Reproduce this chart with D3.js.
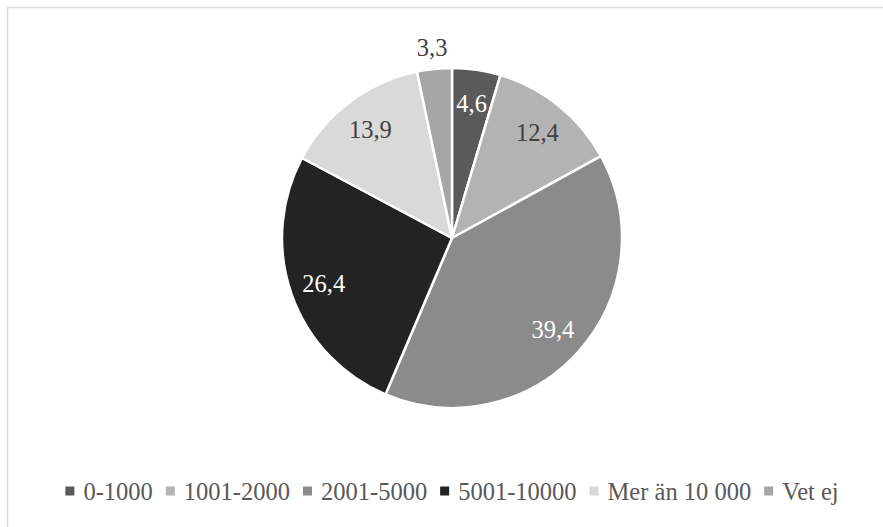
<!DOCTYPE html>
<html>
<head>
<meta charset="utf-8">
<script src="https://cdn.jsdelivr.net/npm/d3@7"></script>
<style>
    body { margin: 0; background: #fff; }
    text { font-family: 'Palatino Linotype', 'Book Antiqua', 'Liberation Serif', serif; }
</style>
</head>
<body>
<svg width="883" height="527"></svg>
<script>
const categories = ['0-1000', '1001-2000', '2001-5000', '5001-10000', 'Mer än 10 000', 'Vet ej'];
const values = [4.6, 12.4, 39.4, 26.4, 13.9, 3.3];
const labels = ['4,6', '12,4', '39,4', '26,4', '13,9', '3,3'];
const colors = ['#5a5a5a', '#b3b3b3', '#8b8b8b', '#232323', '#d9d9d9', '#a6a6a6'];
const labelColors = ['#ffffff', '#404040', '#ffffff', '#ffffff', '#404040', '#404040'];

const svg = d3.select('svg');

// chart frame
svg.append('rect')
    .attr('x', 7.5)
    .attr('y', 7.5)
    .attr('width', 900)
    .attr('height', 540)
    .attr('fill', 'none')
    .attr('stroke', '#d9d9d9')
    .attr('stroke-width', 1.5);

const cx = 452, cy = 238, radius = 170;

const pie = d3.pie().sort(null).value(d => d);
const arcs = pie(values);

const arc = d3.arc().innerRadius(0).outerRadius(radius);
const labelArc = d3.arc().innerRadius(136).outerRadius(136);
const outerArc = d3.arc().innerRadius(192).outerRadius(192);

const g = svg.append('g').attr('transform', `translate(${cx},${cy})`);

g.selectAll('path')
    .data(arcs)
    .enter()
    .append('path')
    .attr('d', arc)
    .attr('fill', (d, i) => colors[i])
    .attr('stroke', '#fff')
    .attr('stroke-width', 2.5)
    .attr('stroke-linejoin', 'round');

// data labels, small last slice sits outside
g.selectAll('text.lbl')
    .data(arcs)
    .enter()
    .append('text')
    .attr('class', 'lbl')
    .attr('transform', (d, i) => {
        const c = (i === arcs.length - 1 ? outerArc : labelArc).centroid(d);
        return `translate(${c[0]},${c[1]})`;
    })
    .attr('text-anchor', 'middle')
    .attr('dy', '0.35em')
    .style('font-size', '24.5px')
    .style('fill', (d, i) => labelColors[i])
    .text((d, i) => labels[i]);

// legend
const legend = svg.append('g').attr('transform', 'translate(0,491)');
const items = legend.selectAll('g')
    .data(categories)
    .enter()
    .append('g');

items.append('rect')
    .attr('width', 9)
    .attr('height', 9)
    .attr('y', -4.5)
    .attr('fill', (d, i) => colors[i]);

items.append('text')
    .attr('x', 18)
    .attr('dy', '0.35em')
    .style('font-size', '24.5px')
    .style('fill', '#595959')
    .text(d => d);

let offsets = [];
let total = 0;
items.each(function() {
    const w = 18 + d3.select(this).select('text').node().getComputedTextLength();
    offsets.push(total);
    total += w + 13;
});
total -= 13;
const startX = cx - total / 2;
items.attr('transform', (d, i) => `translate(${startX + offsets[i]},0)`);
</script>
</body>
</html>
